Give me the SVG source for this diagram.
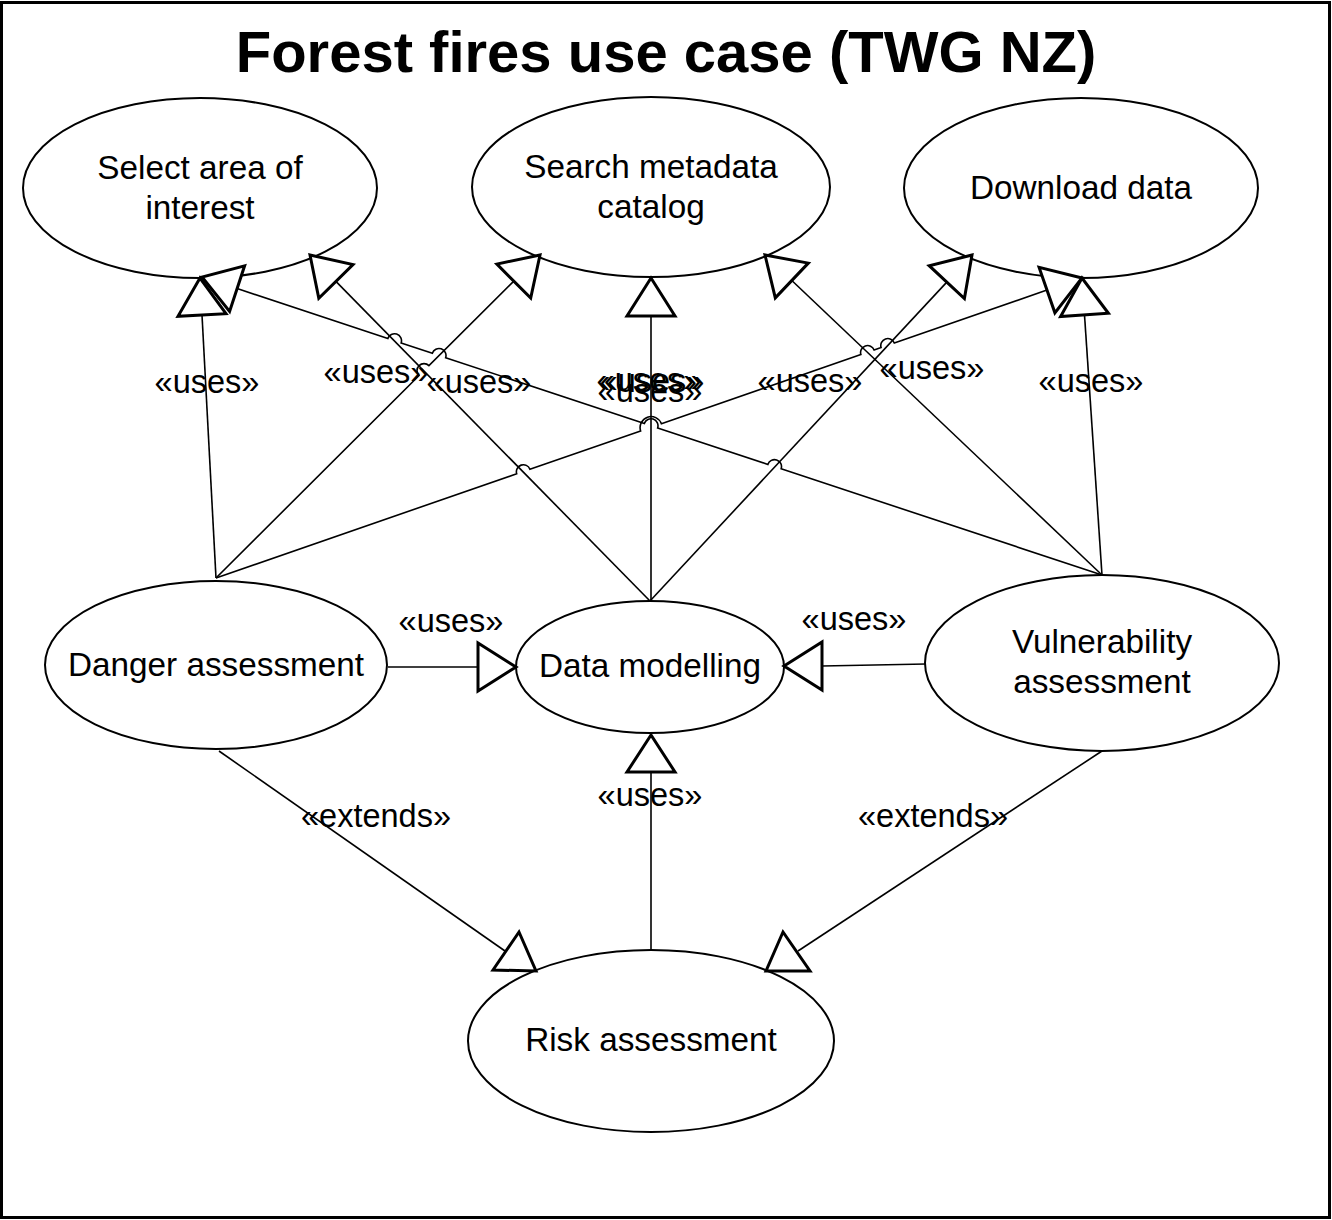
<svg xmlns="http://www.w3.org/2000/svg" width="1332" height="1220" viewBox="0 0 1332 1220">
<style>
.t{font-family:"Liberation Sans",Arial,sans-serif;fill:#000;text-anchor:middle}
.title{font-size:58px;font-weight:bold}
.nt{font-size:33.3px}
.lb{font-size:32.5px}
.node ellipse{fill:#fff;stroke:#000;stroke-width:2}
.ln{fill:none;stroke:#000;stroke-width:1.6}
.ah{fill:#fff;stroke:#000;stroke-width:3;stroke-linejoin:miter}
</style>
<rect x="0" y="0" width="1332" height="1220" fill="#fff"/>
<rect x="1.5" y="2.5" width="1328" height="1215" fill="none" stroke="#000" stroke-width="3"/>
<text class="t title" x="666" y="72">Forest fires use case (TWG NZ)</text>

<g id="n-select" class="node"><ellipse cx="200" cy="188" rx="177" ry="90"/><text class="t nt" x="200" y="179">Select area of</text><text class="t nt" x="200" y="219">interest</text></g>
<g id="n-search" class="node"><ellipse cx="651" cy="187" rx="179" ry="90"/><text class="t nt" x="651" y="178">Search metadata</text><text class="t nt" x="651" y="218">catalog</text></g>
<g id="n-download" class="node"><ellipse cx="1081" cy="188" rx="177" ry="90"/><text class="t nt" x="1081" y="199">Download data</text></g>
<g id="n-danger" class="node"><ellipse cx="216" cy="665" rx="171" ry="84"/><text class="t nt" x="216" y="676">Danger assessment</text></g>
<g id="n-datamodel" class="node"><ellipse cx="650" cy="667" rx="134" ry="66"/><text class="t nt" x="650" y="677">Data modelling</text></g>
<g id="n-vuln" class="node"><ellipse cx="1102" cy="663" rx="177" ry="88"/><text class="t nt" x="1102" y="653">Vulnerability</text><text class="t nt" x="1102" y="693">assessment</text></g>
<g id="n-risk" class="node"><ellipse cx="651" cy="1041" rx="183" ry="91"/><text class="t nt" x="651" y="1051">Risk assessment</text></g>

<g id="connectors">
<path class="ln" d="M216,578 L202,315"/>
<polygon class="ah" points="200,278 178,316.3 226,313.7"/>
<path class="ln" d="M216,578 L419.04,375.54 A7,7 0 0 1 428.96,365.66 L513.8,281.1"/>
<polygon class="ah" points="540,255 496.9,264.1 530.7,298.1"/>
<path class="ln" d="M216,578 L516.69,473.79 A7,7 0 0 1 529.91,469.21 L640.61,430.9 A11,11 0 0 1 661.39,423.7 L860.89,354.59 A7,7 0 0 1 874.11,350.01 L881.09,347.59 A7,7 0 0 1 894.31,343.01 L1047,290.1"/>
<polygon class="ah" points="1082,278 1039.1,267.4 1054.9,312.8"/>
<path class="ln" d="M650,601 L335.9,281.4"/>
<polygon class="ah" points="310,255 318.8,298.2 353,264.6"/>
<path class="ln" d="M651,601 L651,316"/>
<polygon class="ah" points="651,278 627,316 675,316"/>
<path class="ln" d="M650,601 L946.8,282.1"/>
<polygon class="ah" points="972,255 929.2,265.7 964.4,298.5"/>
<path class="ln" d="M1102,575 L781.15,468.8 A7,7 0 0 0 767.85,464.4 L657.65,427.9 A7,7 0 0 0 644.35,423.5 L445.65,357.7 A7,7 0 0 0 432.35,353.3 L401.15,342.9 A7,7 0 0 0 387.85,338.5 L237.1,288.6"/>
<polygon class="ah" points="202,277 229.6,311.4 244.6,265.8"/>
<path class="ln" d="M1102,575 L791.8,280.5"/>
<polygon class="ah" points="765,255 775.3,297.9 808.3,263.1"/>
<path class="ln" d="M1102,575 L1084.5,314.9"/>
<polygon class="ah" points="1082,278 1060.6,316.5 1108.4,313.3"/>
<path class="ln" d="M388,667 L478,667"/>
<polygon class="ah" points="516,667 478,643 478,691"/>
<path class="ln" d="M926,664 L822,666"/>
<polygon class="ah" points="784,666 822,642 822,690"/>
<path class="ln" d="M651,950 L651,772"/>
<polygon class="ah" points="651,735 627,772 675,772"/>
<path class="ln" d="M219,751 L505,951"/>
<polygon class="ah" points="519,932 493,970 536,971"/>
<path class="ln" d="M1102,751 L798,951"/>
<polygon class="ah" points="783,932 766,971 810,971"/>

<text class="t lb" x="207" y="393">«uses»</text>
<text class="t lb" x="376" y="383">«uses»</text>
<text class="t lb" x="479" y="393">«uses»</text>
<text class="t lb" x="649" y="391">«uses»</text>
<text class="t lb" x="652" y="392">«uses»</text>
<text class="t lb" x="650" y="402">«uses»</text>
<text class="t lb" x="810" y="392">«uses»</text>
<text class="t lb" x="932" y="379">«uses»</text>
<text class="t lb" x="1091" y="392">«uses»</text>
<text class="t lb" x="451" y="632">«uses»</text>
<text class="t lb" x="854" y="630">«uses»</text>
<text class="t lb" x="650" y="806">«uses»</text>
<text class="t lb" x="376" y="827">«extends»</text>
<text class="t lb" x="933" y="827">«extends»</text>
</g>
</svg>
